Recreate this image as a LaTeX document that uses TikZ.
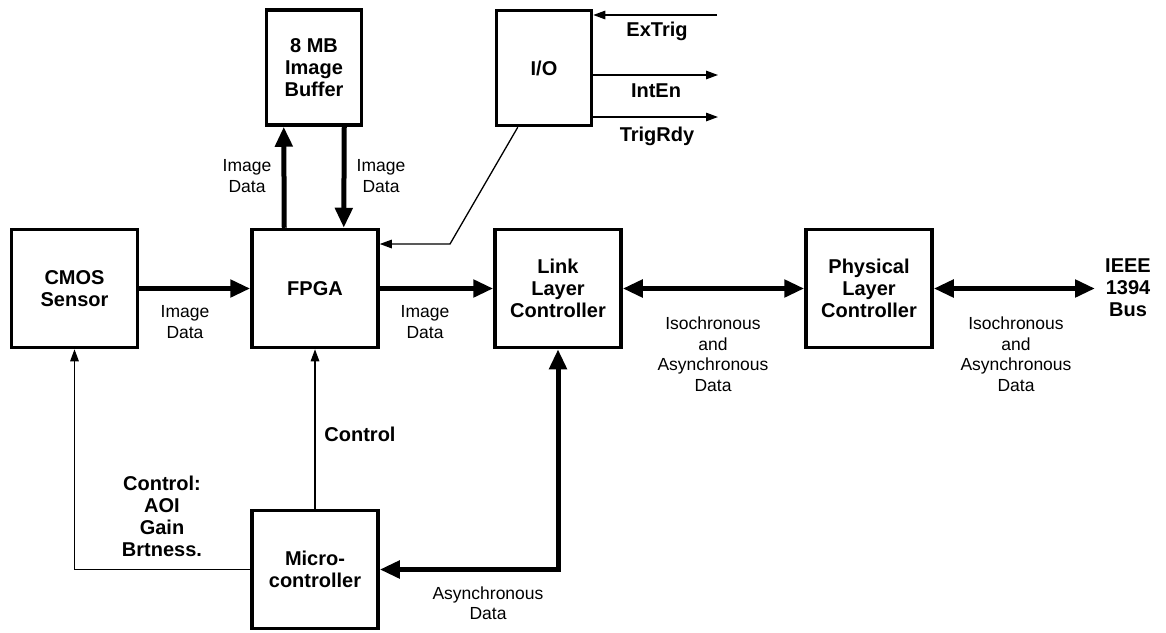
\documentclass[tikz,border=0pt]{standalone}
\usepackage{fontspec}
\setmainfont{Liberation Sans}
\usetikzlibrary{arrows.meta,calc}
\begin{document}
\begin{tikzpicture}[x=1pt,y=-1pt,
 box/.style={draw, line width=3.5pt, inner sep=0pt, align=center,
   font=\bfseries\fontsize{20}{22}\selectfont, minimum width=126pt, minimum height=118pt},
 smallbox/.style={box, minimum width=95pt, minimum height=115pt},
 lbl/.style={align=center, font=\fontsize{17.5}{20.5}\selectfont, inner sep=0pt},
 blbl/.style={align=center, font=\bfseries\fontsize{20}{22}\selectfont, inner sep=0pt},
 thickarr/.style={line width=5pt, -{Triangle[length=20pt,width=17pt]}},
 thinarr/.style={line width=1.3pt, -{Triangle[length=12pt,width=8.5pt]}},
]
\useasboundingbox (0,0) rectangle (1166,632);

% boxes
\node[box] (cmos) at (74.5,288.5) {CMOS\\Sensor};
\node[box] (fpga) at (315,288.5) {FPGA};
\node[box] (link) at (558,288.5) {Link\\Layer\\Controller};
\node[box] (phys) at (869,288.5) {Physical\\Layer\\Controller};
\node[smallbox] (buf) at (314,67.5) {8 MB\\Image\\Buffer};
\node[smallbox] (io) at (544,68) {I/O};
\node[box] (micro) at (315,569.5) {Micro-\\controller};

% free ends
\coordinate (bus) at (1095,288.5);
\coordinate (extrig) at (717,15);
\coordinate (inten) at (718,75);
\coordinate (trigrdy) at (718,117);
\coordinate (iobend) at (450,244);

% thick connectors
\draw[thickarr] (cmos.east) -- (fpga.west);
\draw[thickarr] (fpga.east) -- (link.west);
\draw[thickarr,{Triangle[length=20pt,width=17pt]}-{Triangle[length=20pt,width=17pt]}] (link.east) -- (phys.west);
\draw[thickarr,{Triangle[length=20pt,width=17pt]}-{Triangle[length=20pt,width=17pt]}] (phys.east) -- (bus);
\draw[thickarr] ([xshift=34pt]fpga.north west) -- ([xshift=19pt]buf.south west);
\draw[thickarr] ([xshift=-19pt]buf.south east) -- ([xshift=-36pt]fpga.north east);
\draw[thickarr,{Triangle[length=20pt,width=17pt]}-{Triangle[length=20pt,width=17pt]}] (micro.east) -- (micro.east -| link.south) -- (link.south);

% thin connectors
\draw[thinarr] (micro.north) -- (fpga.south);
\draw[thinarr] (micro.west) -- (micro.west -| cmos.south) -- (cmos.south);
\draw[thinarr] ([xshift=23pt]io.south west) -- (iobend) -- (fpga.east |- iobend);
\draw[thinarr] (extrig) -- (extrig -| io.east);
\draw[thinarr] (io.east |- inten) -- (inten);
\draw[thinarr] (io.east |- trigrdy) -- (trigrdy);

% labels
\node[lbl] (l1) at (185,322) {Image\\Data};
\node[lbl] (l2) at (425,322) {Image\\Data};
\node[lbl] (l3) at (247,176) {Image\\Data};
\node[lbl] (l4) at (381,176) {Image\\Data};
\node[lbl] (l5) at (713,354) {Isochronous\\and\\Asynchronous\\Data};
\node[lbl] (l6) at (1016,354) {Isochronous\\and\\Asynchronous\\Data};
\node[lbl] (l7) at (488,603) {Asynchronous\\Data};
\node[blbl] (c1) at (360,434) {Control};
\node[blbl] (c2) at (162,516) {Control:\\AOI\\Gain\\Brtness.};
\node[blbl] (buslbl) at (1128,288) {IEEE\\1394\\Bus};
\node[blbl] (t1) at (657,31) {ExTrig};
\node[blbl] (t2) at (656,91) {IntEn};
\node[blbl] (t3) at (657,136) {TrigRdy};
\end{tikzpicture}
\end{document}
